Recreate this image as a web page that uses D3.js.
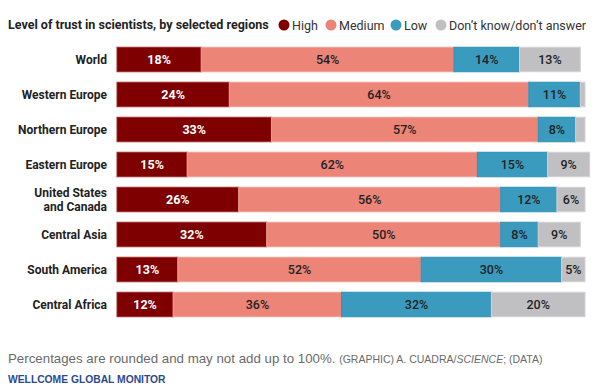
<!DOCTYPE html>
<html>
<head>
<meta charset="utf-8">
<script src="https://cdn.jsdelivr.net/npm/d3@7"></script>
<style>
  body { margin: 0; background: #fff; }
  svg { display: block; }
</style>
</head>
<body>
<script>
const regions = ["World", "Western Europe", "Northern Europe", "Eastern Europe",
                 "United States and Canada", "Central Asia", "South America", "Central Africa"];
const high   = [18, 24, 33, 15, 26, 32, 13, 12];
const medium = [54, 64, 57, 62, 56, 50, 52, 36];
const low    = [14, 11,  8, 15, 12,  8, 30, 32];
const dunno  = [13,  1,  2,  9,  6,  9,  5, 20];

const keys = ["High", "Medium", "Low", "Don\u2019t know/don\u2019t answer"];
const fills   = ["#7f0000", "#ec8477", "#3a9bbf", "#c0c0c2"];
const strokes = ["#9c2a2a", "#f0a094", "#2f8fb5", "#d3d3d5"];
const inkColors = ["#fff", "#222", "#222", "#222"];

const width = 600, height = 389;

const rows = regions.map((r, i) => {
  const vals = [high[i], medium[i], low[i], dunno[i]];
  let acc = 0;
  return {
    region: r,
    segs: vals.map((v, k) => { const s = {k: k, x0: acc, x1: acc + v, v: v}; acc += v; return s; })
  };
});

const svg = d3.select("body").append("svg")
  .attr("width", width)
  .attr("height", height);

const x = d3.scaleLinear().domain([0, 100]).range([117, 585]);
const y = d3.scaleBand().domain(regions).range([42, 322]).paddingInner(0.3).paddingOuter(0.15);

// title + legend
svg.append("text")
  .attr("x", 8).attr("y", 29)
  .attr("font-family", "Roboto, sans-serif")
  .attr("font-weight", 700)
  .attr("font-size", 12.5)
  .attr("fill", "#222")
  .text("Level of trust in scientists, by selected regions");

const legX = [284, 331, 396, 441];
const leg = svg.selectAll("g.leg").data(keys).enter().append("g")
  .attr("class", "leg")
  .attr("transform", (d, i) => "translate(" + legX[i] + ",25)");
leg.append("circle").attr("r", 5.5).attr("fill", (d, i) => fills[i]);
leg.append("text")
  .attr("x", 8).attr("y", 4.5)
  .attr("font-family", "Roboto, sans-serif")
  .attr("font-size", 12.5)
  .attr("fill", "#333")
  .text(d => d);

// region labels
const lab = svg.selectAll("text.region").data(regions).enter().append("text")
  .attr("class", "region")
  .attr("x", 107)
  .attr("y", d => y(d) + y.bandwidth() / 2 + 4.5)
  .attr("text-anchor", "end")
  .attr("font-family", "Roboto, sans-serif")
  .attr("font-weight", 700)
  .attr("font-size", 12)
  .attr("fill", "#222");
lab.each(function(d) {
  const t = d3.select(this);
  if (d === "United States and Canada") {
    t.append("tspan").attr("x", 107).attr("dy", "-0.62em").text("United States");
    t.append("tspan").attr("x", 107).attr("dy", "1.2em").text("and Canada");
  } else {
    t.text(d);
  }
});

// bars
const rowG = svg.selectAll("g.row").data(rows).enter().append("g")
  .attr("class", "row")
  .attr("transform", d => "translate(0," + y(d.region) + ")");

rowG.selectAll("rect").data(d => d.segs).enter().append("rect")
  .attr("x", d => x(d.x0))
  .attr("y", 0)
  .attr("width", d => x(d.x1) - x(d.x0))
  .attr("height", y.bandwidth())
  .attr("fill", d => fills[d.k])
  .attr("stroke", d => strokes[d.k])
  .attr("stroke-width", 1);

rowG.selectAll("text").data(d => d.segs.filter(s => s.v >= 5)).enter().append("text")
  .attr("x", d => (x(d.x0) + x(d.x1)) / 2)
  .attr("y", y.bandwidth() / 2 + 4.5)
  .attr("text-anchor", "middle")
  .attr("font-family", "Roboto, sans-serif")
  .attr("font-weight", d => d.k === 0 ? 700 : 500)
  .attr("font-size", 12.5)
  .attr("fill", d => inkColors[d.k])
  .text(d => d.v + "%");

// footer
const foot = svg.append("text")
  .attr("x", 8).attr("y", 363)
  .attr("font-family", "'Liberation Sans', Arial, sans-serif")
  .attr("fill", "#6b6b6b");
foot.append("tspan").attr("font-size", 13.3).text("Percentages are rounded and may not add up to 100%. ");
foot.append("tspan").attr("font-size", 10.5).text("(GRAPHIC) A. CUADRA/");
foot.append("tspan").attr("font-size", 10.5).attr("font-style", "italic").text("SCIENCE");
foot.append("tspan").attr("font-size", 10.5).text("; (DATA)");

svg.append("text")
  .attr("x", 8).attr("y", 383)
  .attr("font-family", "'Liberation Sans', Arial, sans-serif")
  .attr("font-weight", 700)
  .attr("font-size", 10.3)
  .attr("fill", "#2b4a8e")
  .text("WELLCOME GLOBAL MONITOR");
</script>
</body>
</html>
